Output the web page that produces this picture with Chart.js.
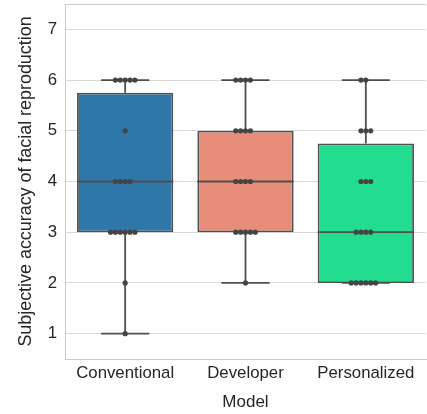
<!DOCTYPE html>
<html lang="en">
<head>
    <meta charset="UTF-8">
    <title>Boxplot - Model</title>
    <script src="https://cdn.jsdelivr.net/npm/chart.js"></script>
    <style>
        html, body { margin: 0; padding: 0; background: #fff; overflow: hidden; }
        .quadro { position: relative; width: 430px; height: 414px; }
    </style>
</head>
<body>
<div class="quadro">
    <canvas id="grafico"></canvas>
</div>
<script>
    // dados (uma nota por participante)
    const modelos = ['Conventional', 'Developer', 'Personalized'];
    const notasConventional = [6, 6, 6, 6, 6, 5, 4, 4, 4, 4, 3, 3, 3, 3, 3, 3, 2, 1];
    const notasDeveloper = [6, 6, 6, 6, 5, 5, 5, 5, 4, 4, 4, 4, 3, 3, 3, 3, 3, 2];
    const notasPersonalized = [6, 6, 5, 5, 5, 4, 4, 4, 3, 3, 3, 3, 2, 2, 2, 2, 2, 2];
    const yTicks = [1, 2, 3, 4, 5, 6, 7];

    const coresCaixas = ['#2f77a8', '#e88d79', '#22dc90'];
    const corLinha = '#4f4f4f';
    const corPonto = '#444444';
    const fonte = "'Liberation Sans', Arial, sans-serif";
    const passoPonto = 0.0405; // distancia entre pontos do swarm (em unidades de categoria)

    const todasNotas = [notasConventional, notasDeveloper, notasPersonalized];

    function quantil(arr, p) {
        const s = [...arr].sort((a, b) => a - b);
        const pos = (s.length - 1) * p;
        const lo = Math.floor(pos), hi = Math.ceil(pos);
        return s[lo] + (s[hi] - s[lo]) * (pos - lo);
    }

    // estatisticas da caixa (quartis e bigodes 1.5*IQR)
    const stats = todasNotas.map(notas => {
        const q1 = quantil(notas, 0.25);
        const med = quantil(notas, 0.5);
        const q3 = quantil(notas, 0.75);
        const iqr = q3 - q1;
        const dentro = notas.filter(v => v >= q1 - 1.5 * iqr && v <= q3 + 1.5 * iqr);
        return { q1, med, q3, min: Math.min(...dentro), max: Math.max(...dentro) };
    });

    // pontos do swarm: 0, -1, +1, -2, +2 ... para notas repetidas
    const pontos = [];
    todasNotas.forEach((notas, i) => {
        const contagem = {};
        notas.forEach(v => {
            const k = contagem[v] || 0;
            contagem[v] = k + 1;
            const desloc = k === 0 ? 0 : (k % 2 === 1 ? -(k + 1) / 2 : k / 2);
            pontos.push({ x: i + desloc * passoPonto, y: v });
        });
    });

    const caixaPlugin = {
        id: 'caixaPlugin',
        beforeDatasetsDraw(chart) {
            const ctx = chart.ctx;
            const area = chart.chartArea;
            const x = chart.scales.x, y = chart.scales.y;
            const metaBar = chart.getDatasetMeta(1);
            ctx.save();
            // borda de cima
            ctx.strokeStyle = '#cccccc';
            ctx.lineWidth = 1;
            ctx.beginPath();
            ctx.moveTo(area.left, area.top + 0.5);
            ctx.lineTo(area.right, area.top + 0.5);
            ctx.stroke();
            // bigodes
            ctx.strokeStyle = corLinha;
            ctx.lineWidth = 1.8;
            stats.forEach((s, i) => {
                const cx = x.getPixelForValue(i);
                const meia = metaBar.data[i].width / 4;
                ctx.beginPath();
                ctx.moveTo(cx, y.getPixelForValue(s.q3));
                ctx.lineTo(cx, y.getPixelForValue(s.max));
                ctx.moveTo(cx, y.getPixelForValue(s.q1));
                ctx.lineTo(cx, y.getPixelForValue(s.min));
                ctx.moveTo(cx - meia, y.getPixelForValue(s.max));
                ctx.lineTo(cx + meia, y.getPixelForValue(s.max));
                ctx.moveTo(cx - meia, y.getPixelForValue(s.min));
                ctx.lineTo(cx + meia, y.getPixelForValue(s.min));
                ctx.stroke();
            });
            ctx.restore();
        },
        afterDatasetDraw(chart, args) {
            if (args.index !== 1) return;
            const ctx = chart.ctx;
            const y = chart.scales.y;
            ctx.save();
            ctx.strokeStyle = corLinha;
            ctx.lineWidth = 1.8;
            args.meta.data.forEach((bar, i) => {
                const py = y.getPixelForValue(stats[i].med);
                ctx.beginPath();
                ctx.moveTo(bar.x - bar.width / 2, py);
                ctx.lineTo(bar.x + bar.width / 2, py);
                ctx.stroke();
            });
            ctx.restore();
        }
    };

    const config = {
        data: {
            labels: modelos,
            datasets: [
                {
                    type: 'scatter',
                    xAxisID: 'xPontos',
                    data: pontos,
                    pointRadius: 2.6,
                    pointBackgroundColor: corPonto,
                    pointBorderWidth: 0,
                    order: 0
                },
                {
                    type: 'bar',
                    xAxisID: 'x',
                    data: stats.map(s => [s.q1, s.q3]),
                    backgroundColor: coresCaixas,
                    borderColor: corLinha,
                    borderWidth: 1.8,
                    borderSkipped: false,
                    grouped: false,
                    barPercentage: 0.8,
                    categoryPercentage: 1,
                    order: 1
                }
            ]
        },
        options: {
            responsive: true,
            maintainAspectRatio: false,
            animation: false,
            layout: { padding: { top: 4, right: 2, left: 0, bottom: 0 } },
            plugins: { legend: { display: false }, tooltip: { enabled: false } },
            scales: {
                x: {
                    type: 'category',
                    grid: { display: false, drawTicks: false },
                    border: { color: '#cccccc', width: 1 },
                    ticks: { color: '#262626', padding: 4, font: { family: fonte, size: 16.8 } },
                    title: { display: true, text: 'Model', color: '#262626', padding: { top: 0, bottom: 1 }, font: { family: fonte, size: 17 } },
                    afterFit(scale) { scale.height = 55; }
                },
                xPontos: {
                    type: 'linear',
                    display: false,
                    min: -0.5,
                    max: 2.5
                },
                y: {
                    min: 0.5,
                    max: 7.5,
                    afterBuildTicks(scale) { scale.ticks = yTicks.map(v => ({ value: v })); },
                    grid: { color: '#d9d9d9', lineWidth: 1, drawTicks: false },
                    border: { color: '#cccccc', width: 1 },
                    ticks: { color: '#262626', padding: 8, font: { family: fonte, size: 16.8 } },
                    title: { display: true, text: 'Subjective accuracy of facial reproduction', color: '#262626', padding: { top: 15, bottom: 0 }, font: { family: fonte, size: 17.9 } },
                    afterFit(scale) {
                        scale.width = 65;
                        scale.paddingTop = 0;
                        scale.paddingBottom = 0;
                    }
                }
            }
        },
        plugins: [caixaPlugin]
    };

    const grafico = new Chart(document.getElementById('grafico'), config);
</script>
</body>
</html>
